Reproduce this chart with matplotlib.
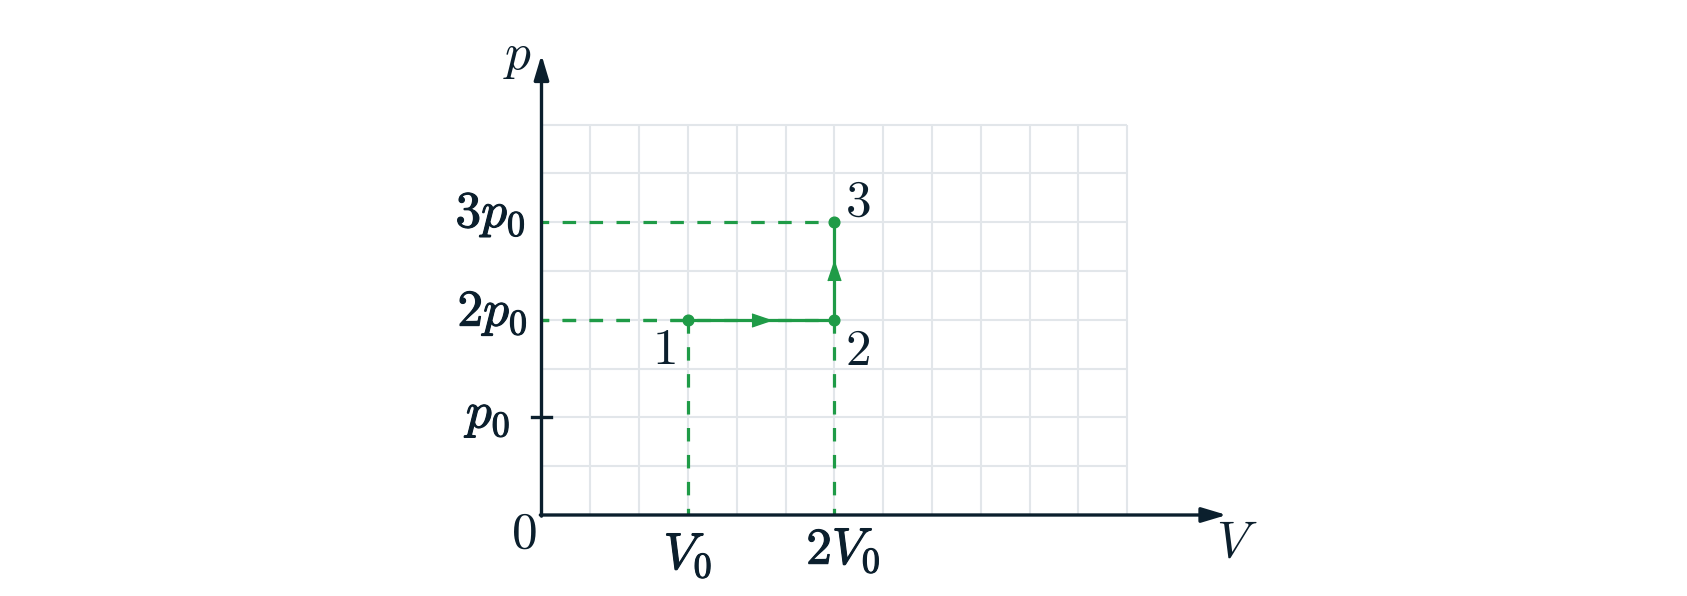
import numpy as np
import matplotlib
matplotlib.use("Agg")
import matplotlib.pyplot as plt
import matplotlib.patheffects as pe

plt.rcParams['mathtext.fontset'] = 'cm'
plt.rcParams['lines.scale_dashes'] = False

# states 1, 2, 3 (V in units of V0, p in units of p0)
state_names = ['1', '2', '3']
V_state = [1, 2, 2]
p_state = [2, 2, 3]

# axis ticks
V_ticks = [1, 2]
V_ticklabels = [r'$V_0$', r'$2V_0$']
p_ticks = [1, 2, 3]
p_ticklabels = [r'$p_0$', r'$2p_0$', r'$3p_0$']

# grid: 12 columns of V0/3, 8 rows of p0/2
grid_x = np.arange(1, 13) / 3
grid_y = np.arange(1, 9) / 2

green = '#1f9b47'
dark = '#0b1f2d'
gridc = '#e2e6ea'

fig = plt.figure(figsize=(16.87, 5.96), dpi=100)
ax = fig.add_axes([0, 0, 1, 1])
ax.axis('off')

# pixel geometry: origin at (541.5, 515) px, 48.8 px per grid cell
cell = 48.8
ax.set_xlim(-541.5 / (3 * cell), (1687 - 541.5) / (3 * cell))
ax.set_ylim(-81 / (2 * cell), (596 - 81) / (2 * cell))

# grid
ax.vlines(grid_x, 0, grid_y[-1], color=gridc, lw=1.5, zorder=1)
ax.hlines(grid_y, 0, grid_x[-1], color=gridc, lw=1.5, zorder=1)

# dashed guide lines
dash = (4.9, (9.7, 9.7))
for v, p in zip(V_state, p_state):
    ax.plot([0, v], [p, p], color=green, lw=2.3, linestyle=dash, zorder=2)
for v, p in zip(V_state[:2], p_state[:2]):
    ax.plot([v, v], [0, p], color=green, lw=2.3, linestyle=dash, zorder=2)

# axes with arrows
x_tip = 14.04 / 3
y_tip = 9.43 / 2
arr = dict(arrowstyle='-|>,head_length=1.5,head_width=0.45', mutation_scale=10,
           lw=2.4, color=dark, shrinkA=0, shrinkB=0)
ax.annotate('', xy=(x_tip, 0), xytext=(-0.008, 0), arrowprops=arr, zorder=4)
ax.annotate('', xy=(0, y_tip), xytext=(0, -0.012), arrowprops=arr, zorder=4)
ax.plot([-0.065, 0.065], [1, 1], color=dark, lw=2.4, zorder=4)

# process path
ax.plot(V_state, p_state, color=green, lw=2.3, zorder=5)
ax.plot(V_state, p_state, 'o', color=green, ms=7.7, zorder=6)
right_tri = [(-1, -0.68), (1, 0), (-1, 0.68)]
up_tri = [(-0.68, -1), (0, 1), (0.68, -1)]
for i in range(len(V_state) - 1):
    mv = (V_state[i] + V_state[i + 1]) / 2
    mp = (p_state[i] + p_state[i + 1]) / 2
    mk = right_tri if p_state[i] == p_state[i + 1] else up_tri
    ax.plot([mv], [mp], marker=mk, ms=13.7, color=green, mec=green, zorder=6)

fs = 37
bold = [pe.withStroke(linewidth=0.8, foreground=dark)]

# tick labels
p_offsets = [(-29.5, 2.5), (-14, 7), (-16, 8)]
for p, lab, off in zip(p_ticks, p_ticklabels, p_offsets):
    ax.annotate(lab, (0, p), xytext=off, textcoords='offset pixels',
                ha='right', va='center', fontsize=fs, color=dark, path_effects=bold)
V_offsets = [(0, -40), (9, -35)]
for v, lab, off in zip(V_ticks, V_ticklabels, V_offsets):
    ax.annotate(lab, (v, 0), xytext=off, textcoords='offset pixels',
                ha='center', va='center', fontsize=fs, color=dark, path_effects=bold)

ax.annotate(r'$0$', (0, 0), xytext=(-18, -19), textcoords='offset pixels',
            ha='center', va='center', fontsize=fs, color=dark)
ax.annotate(r'$p$', (0, y_tip), xytext=(-24, -1), textcoords='offset pixels',
            ha='center', va='center', fontsize=fs, color=dark)
ax.annotate(r'$V$', (x_tip, 0), xytext=(10, -28), textcoords='offset pixels',
            ha='center', va='center', fontsize=fs, color=dark)

# state labels
state_offsets = [(-24, -30), (23, -31), (23, 20)]
for name, v, p, off in zip(state_names, V_state, p_state, state_offsets):
    ax.annotate(r'$%s$' % name, (v, p), xytext=off, textcoords='offset pixels',
                ha='center', va='center', fontsize=fs, color=dark)

fig.savefig('out.png', dpi=100)
